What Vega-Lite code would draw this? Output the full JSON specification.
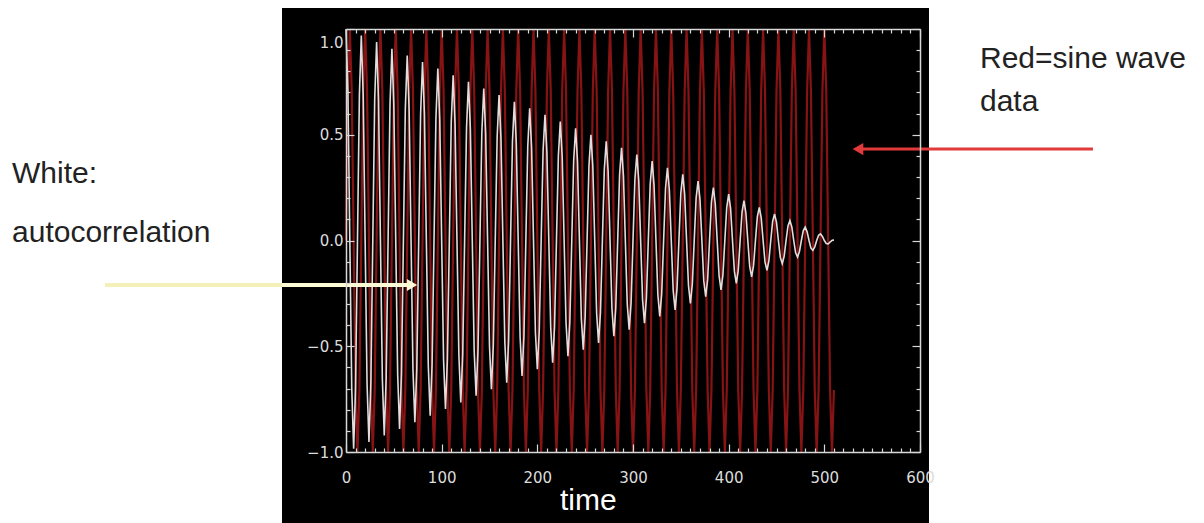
{
"$schema": "https://vega.github.io/schema/vega-lite/v6.json",
"width": 574, "height": 423,
"autosize": {"type": "none"},
"padding": {"left": 346, "top": 29, "right": 284, "bottom": 71},
"background": "#ffffff",
"config": {"view": {"stroke": null}},
"resolve": {"axis": {"x": "independent", "y": "independent"}},
"datasets": {
"acf": [
{"t":0,"r":0,"w":1},{"t":2,"r":0.707,"w":0.704},{"t":4,"r":1,"w":0},{"t":6,"r":0.707,"w":-0.699},{"t":8,"r":0,"w":-0.984},{"t":10,"r":-0.707,"w":-0.693},{"t":12,"r":-1,"w":0},{"t":14,"r":-0.707,"w":0.688},
{"t":16,"r":0,"w":0.969},{"t":18,"r":0.707,"w":0.682},{"t":20,"r":1,"w":0},{"t":22,"r":0.707,"w":-0.677},{"t":24,"r":0,"w":-0.953},{"t":26,"r":-0.707,"w":-0.671},{"t":28,"r":-1,"w":0},{"t":30,"r":-0.707,"w":0.666},
{"t":32,"r":0,"w":0.938},{"t":34,"r":0.707,"w":0.660},{"t":36,"r":1,"w":0},{"t":38,"r":0.707,"w":-0.655},{"t":40,"r":0,"w":-0.922},{"t":42,"r":-0.707,"w":-0.649},{"t":44,"r":-1,"w":0},{"t":46,"r":-0.707,"w":0.644},
{"t":48,"r":0,"w":0.906},{"t":50,"r":0.707,"w":0.638},{"t":52,"r":1,"w":0},{"t":54,"r":0.707,"w":-0.633},{"t":56,"r":0,"w":-0.891},{"t":58,"r":-0.707,"w":-0.627},{"t":60,"r":-1,"w":0},{"t":62,"r":-0.707,"w":0.621},
{"t":64,"r":0,"w":0.875},{"t":66,"r":0.707,"w":0.616},{"t":68,"r":1,"w":0},{"t":70,"r":0.707,"w":-0.610},{"t":72,"r":0,"w":-0.859},{"t":74,"r":-0.707,"w":-0.605},{"t":76,"r":-1,"w":0},{"t":78,"r":-0.707,"w":0.599},
{"t":80,"r":0,"w":0.844},{"t":82,"r":0.707,"w":0.594},{"t":84,"r":1,"w":0},{"t":86,"r":0.707,"w":-0.588},{"t":88,"r":0,"w":-0.828},{"t":90,"r":-0.707,"w":-0.583},{"t":92,"r":-1,"w":0},{"t":94,"r":-0.707,"w":0.577},
{"t":96,"r":0,"w":0.813},{"t":98,"r":0.707,"w":0.572},{"t":100,"r":1,"w":0},{"t":102,"r":0.707,"w":-0.566},{"t":104,"r":0,"w":-0.797},{"t":106,"r":-0.707,"w":-0.561},{"t":108,"r":-1,"w":0},{"t":110,"r":-0.707,"w":0.555},
{"t":112,"r":0,"w":0.781},{"t":114,"r":0.707,"w":0.550},{"t":116,"r":1,"w":0},{"t":118,"r":0.707,"w":-0.544},{"t":120,"r":0,"w":-0.766},{"t":122,"r":-0.707,"w":-0.539},{"t":124,"r":-1,"w":0},{"t":126,"r":-0.707,"w":0.533},
{"t":128,"r":0,"w":0.75},{"t":130,"r":0.707,"w":0.528},{"t":132,"r":1,"w":0},{"t":134,"r":0.707,"w":-0.522},{"t":136,"r":0,"w":-0.734},{"t":138,"r":-0.707,"w":-0.517},{"t":140,"r":-1,"w":0},{"t":142,"r":-0.707,"w":0.511},
{"t":144,"r":0,"w":0.719},{"t":146,"r":0.707,"w":0.505},{"t":148,"r":1,"w":0},{"t":150,"r":0.707,"w":-0.5},{"t":152,"r":0,"w":-0.703},{"t":154,"r":-0.707,"w":-0.494},{"t":156,"r":-1,"w":0},{"t":158,"r":-0.707,"w":0.489},
{"t":160,"r":0,"w":0.688},{"t":162,"r":0.707,"w":0.483},{"t":164,"r":1,"w":0},{"t":166,"r":0.707,"w":-0.478},{"t":168,"r":0,"w":-0.672},{"t":170,"r":-0.707,"w":-0.472},{"t":172,"r":-1,"w":0},{"t":174,"r":-0.707,"w":0.467},
{"t":176,"r":0,"w":0.656},{"t":178,"r":0.707,"w":0.461},{"t":180,"r":1,"w":0},{"t":182,"r":0.707,"w":-0.456},{"t":184,"r":0,"w":-0.641},{"t":186,"r":-0.707,"w":-0.450},{"t":188,"r":-1,"w":0},{"t":190,"r":-0.707,"w":0.445},
{"t":192,"r":0,"w":0.625},{"t":194,"r":0.707,"w":0.439},{"t":196,"r":1,"w":0},{"t":198,"r":0.707,"w":-0.434},{"t":200,"r":0,"w":-0.609},{"t":202,"r":-0.707,"w":-0.428},{"t":204,"r":-1,"w":0},{"t":206,"r":-0.707,"w":0.423},
{"t":208,"r":0,"w":0.594},{"t":210,"r":0.707,"w":0.417},{"t":212,"r":1,"w":0},{"t":214,"r":0.707,"w":-0.412},{"t":216,"r":0,"w":-0.578},{"t":218,"r":-0.707,"w":-0.406},{"t":220,"r":-1,"w":0},{"t":222,"r":-0.707,"w":0.400},
{"t":224,"r":0,"w":0.563},{"t":226,"r":0.707,"w":0.395},{"t":228,"r":1,"w":0},{"t":230,"r":0.707,"w":-0.389},{"t":232,"r":0,"w":-0.547},{"t":234,"r":-0.707,"w":-0.384},{"t":236,"r":-1,"w":0},{"t":238,"r":-0.707,"w":0.378},
{"t":240,"r":0,"w":0.531},{"t":242,"r":0.707,"w":0.373},{"t":244,"r":1,"w":0},{"t":246,"r":0.707,"w":-0.367},{"t":248,"r":0,"w":-0.516},{"t":250,"r":-0.707,"w":-0.362},{"t":252,"r":-1,"w":0},{"t":254,"r":-0.707,"w":0.356},
{"t":256,"r":0,"w":0.5},{"t":258,"r":0.707,"w":0.351},{"t":260,"r":1,"w":0},{"t":262,"r":0.707,"w":-0.345},{"t":264,"r":0,"w":-0.484},{"t":266,"r":-0.707,"w":-0.340},{"t":268,"r":-1,"w":0},{"t":270,"r":-0.707,"w":0.334},
{"t":272,"r":0,"w":0.469},{"t":274,"r":0.707,"w":0.329},{"t":276,"r":1,"w":0},{"t":278,"r":0.707,"w":-0.323},{"t":280,"r":0,"w":-0.453},{"t":282,"r":-0.707,"w":-0.318},{"t":284,"r":-1,"w":0},{"t":286,"r":-0.707,"w":0.312},
{"t":288,"r":0,"w":0.438},{"t":290,"r":0.707,"w":0.307},{"t":292,"r":1,"w":0},{"t":294,"r":0.707,"w":-0.301},{"t":296,"r":0,"w":-0.422},{"t":298,"r":-0.707,"w":-0.296},{"t":300,"r":-1,"w":0},{"t":302,"r":-0.707,"w":0.290},
{"t":304,"r":0,"w":0.406},{"t":306,"r":0.707,"w":0.284},{"t":308,"r":1,"w":0},{"t":310,"r":0.707,"w":-0.279},{"t":312,"r":0,"w":-0.391},{"t":314,"r":-0.707,"w":-0.273},{"t":316,"r":-1,"w":0},{"t":318,"r":-0.707,"w":0.268},
{"t":320,"r":0,"w":0.375},{"t":322,"r":0.707,"w":0.262},{"t":324,"r":1,"w":0},{"t":326,"r":0.707,"w":-0.257},{"t":328,"r":0,"w":-0.359},{"t":330,"r":-0.707,"w":-0.251},{"t":332,"r":-1,"w":0},{"t":334,"r":-0.707,"w":0.246},
{"t":336,"r":0,"w":0.344},{"t":338,"r":0.707,"w":0.240},{"t":340,"r":1,"w":0},{"t":342,"r":0.707,"w":-0.235},{"t":344,"r":0,"w":-0.328},{"t":346,"r":-0.707,"w":-0.229},{"t":348,"r":-1,"w":0},{"t":350,"r":-0.707,"w":0.224},
{"t":352,"r":0,"w":0.313},{"t":354,"r":0.707,"w":0.218},{"t":356,"r":1,"w":0},{"t":358,"r":0.707,"w":-0.213},{"t":360,"r":0,"w":-0.297},{"t":362,"r":-0.707,"w":-0.207},{"t":364,"r":-1,"w":0},{"t":366,"r":-0.707,"w":0.202},
{"t":368,"r":0,"w":0.281},{"t":370,"r":0.707,"w":0.196},{"t":372,"r":1,"w":0},{"t":374,"r":0.707,"w":-0.191},{"t":376,"r":0,"w":-0.266},{"t":378,"r":-0.707,"w":-0.185},{"t":380,"r":-1,"w":0},{"t":382,"r":-0.707,"w":0.180},
{"t":384,"r":0,"w":0.25},{"t":386,"r":0.707,"w":0.174},{"t":388,"r":1,"w":0},{"t":390,"r":0.707,"w":-0.168},{"t":392,"r":0,"w":-0.234},{"t":394,"r":-0.707,"w":-0.163},{"t":396,"r":-1,"w":0},{"t":398,"r":-0.707,"w":0.157},
{"t":400,"r":0,"w":0.219},{"t":402,"r":0.707,"w":0.152},{"t":404,"r":1,"w":0},{"t":406,"r":0.707,"w":-0.146},{"t":408,"r":0,"w":-0.203},{"t":410,"r":-0.707,"w":-0.141},{"t":412,"r":-1,"w":0},{"t":414,"r":-0.707,"w":0.135},
{"t":416,"r":0,"w":0.188},{"t":418,"r":0.707,"w":0.130},{"t":420,"r":1,"w":0},{"t":422,"r":0.707,"w":-0.124},{"t":424,"r":0,"w":-0.172},{"t":426,"r":-0.707,"w":-0.119},{"t":428,"r":-1,"w":0},{"t":430,"r":-0.707,"w":0.113},
{"t":432,"r":0,"w":0.156},{"t":434,"r":0.707,"w":0.108},{"t":436,"r":1,"w":0},{"t":438,"r":0.707,"w":-0.102},{"t":440,"r":0,"w":-0.141},{"t":442,"r":-0.707,"w":-0.097},{"t":444,"r":-1,"w":0},{"t":446,"r":-0.707,"w":0.091},
{"t":448,"r":0,"w":0.125},{"t":450,"r":0.707,"w":0.086},{"t":452,"r":1,"w":0},{"t":454,"r":0.707,"w":-0.080},{"t":456,"r":0,"w":-0.109},{"t":458,"r":-0.707,"w":-0.075},{"t":460,"r":-1,"w":0},{"t":462,"r":-0.707,"w":0.069},
{"t":464,"r":0,"w":0.094},{"t":466,"r":0.707,"w":0.064},{"t":468,"r":1,"w":0},{"t":470,"r":0.707,"w":-0.058},{"t":472,"r":0,"w":-0.078},{"t":474,"r":-0.707,"w":-0.052},{"t":476,"r":-1,"w":0},{"t":478,"r":-0.707,"w":0.047},
{"t":480,"r":0,"w":0.063},{"t":482,"r":0.707,"w":0.041},{"t":484,"r":1,"w":0},{"t":486,"r":0.707,"w":-0.036},{"t":488,"r":0,"w":-0.047},{"t":490,"r":-0.707,"w":-0.030},{"t":492,"r":-1,"w":0},{"t":494,"r":-0.707,"w":0.025},
{"t":496,"r":0,"w":0.031},{"t":498,"r":0.707,"w":0.019},{"t":500,"r":1,"w":0},{"t":502,"r":0.707,"w":-0.014},{"t":504,"r":0,"w":-0.016},{"t":506,"r":-0.707,"w":-0.008},{"t":508,"r":-1,"w":0},{"t":510,"r":-0.707,"w":0.003}
]
},
"layer": [
{
"data": {"values": [{}]},
"mark": {"type": "rect", "fill": "#000000"},
"encoding": {
"x": {"datum": -66.9, "type": "quantitative", "scale": {"domain": [0, 600], "nice": false, "zero": false}, "axis": null},
"x2": {"datum": 609.4},
"y": {"datum": 1.0993, "type": "quantitative", "scale": {"domain": [-1, 1], "nice": false, "zero": false}, "axis": null},
"y2": {"datum": -1.3357}
}
},
{
"data": {"name": "acf"},
"mark": {"type": "line", "color": "#861414", "strokeWidth": 2.2},
"encoding": {
"x": {"field": "t", "type": "quantitative", "scale": {"domain": [0, 600], "nice": false, "zero": false},
"axis": {"orient": "bottom", "title": null, "grid": false, "zindex": 1,
"values": [0,10,20,30,40,50,60,70,80,90,100,110,120,130,140,150,160,170,180,190,200,210,220,230,240,250,260,270,280,290,300,310,320,330,340,350,360,370,380,390,400,410,420,430,440,450,460,470,480,490,500,510,520,530,540,550,560,570,580,590,600],
"labelExpr": "datum.value % 100 === 0 ? datum.label : ''",
"domainColor": "#d8d8d8", "domainWidth": 1.5, "tickColor": "#d8d8d8", "tickWidth": 1.2,
"tickSize": {"condition": {"test": "datum.value % 100 === 0", "value": -8}, "value": -4},
"labelColor": "#dcdcdc", "labelFont": "DejaVu Sans", "labelFontSize": 15, "labelPadding": 26,
"labelFlush": false, "labelOverlap": false, "labelBound": false}},
"y": {"field": "r", "type": "quantitative", "scale": {"domain": [-1, 1], "nice": false, "zero": false},
"axis": {"orient": "left", "title": null, "grid": false, "zindex": 1,
"values": [-1,-0.9,-0.8,-0.7,-0.6,-0.5,-0.4,-0.3,-0.2,-0.1,0,0.1,0.2,0.3,0.4,0.5,0.6,0.7,0.8,0.9,1],
"labelExpr": "abs(datum.value*2 - round(datum.value*2)) < 0.01 ? format(datum.value, '.1f') : ''",
"domainColor": "#d8d8d8", "domainWidth": 1.5, "tickColor": "#d8d8d8", "tickWidth": 1.2,
"tickSize": {"condition": {"test": "abs(datum.value*2 - round(datum.value*2)) < 0.01", "value": -8}, "value": -4},
"labelColor": "#dcdcdc", "labelFont": "DejaVu Sans", "labelFontSize": 15, "labelPadding": 11,
"labelBaseline": "middle",
"labelOffset": {"condition": {"test": "datum.value > 0.99", "value": 13}, "value": 0},
"labelFlush": false, "labelOverlap": false, "labelBound": false}}
}
},
{
"data": {"name": "acf"},
"mark": {"type": "line", "color": "#e2dcdc", "strokeWidth": 1.6},
"encoding": {
"x": {"field": "t", "type": "quantitative",
"axis": {"orient": "top", "title": null, "grid": false, "zindex": 1, "labels": false,
"values": [0,10,20,30,40,50,60,70,80,90,100,110,120,130,140,150,160,170,180,190,200,210,220,230,240,250,260,270,280,290,300,310,320,330,340,350,360,370,380,390,400,410,420,430,440,450,460,470,480,490,500,510,520,530,540,550,560,570,580,590,600],
"domainColor": "#d8d8d8", "domainWidth": 1.5, "tickColor": "#d8d8d8", "tickWidth": 1.2,
"tickSize": {"condition": {"test": "datum.value % 100 === 0", "value": -8}, "value": -4}}},
"y": {"field": "w", "type": "quantitative",
"axis": {"orient": "right", "title": null, "grid": false, "zindex": 1, "labels": false,
"values": [-1,-0.9,-0.8,-0.7,-0.6,-0.5,-0.4,-0.3,-0.2,-0.1,0,0.1,0.2,0.3,0.4,0.5,0.6,0.7,0.8,0.9,1],
"domainColor": "#d8d8d8", "domainWidth": 1.5, "tickColor": "#d8d8d8", "tickWidth": 1.2,
"tickSize": {"condition": {"test": "abs(datum.value*2 - round(datum.value*2)) < 0.01", "value": -8}, "value": -4}}}
}
},
{
"data": {"values": [{}]},
"mark": {"type": "rule", "color": "#f3f0b8", "strokeWidth": 4},
"encoding": {
"x": {"datum": -251.9, "type": "quantitative", "axis": null},
"x2": {"datum": -66.9},
"y": {"datum": -0.2104, "type": "quantitative", "axis": null}
}
},
{
"data": {"values": [{}]},
"mark": {"type": "rule", "color": "#fdfbd5", "strokeWidth": 4},
"encoding": {
"x": {"datum": -66.9, "type": "quantitative", "axis": null},
"x2": {"datum": 66},
"y": {"datum": -0.2104, "type": "quantitative", "axis": null}
}
},
{
"data": {"values": [{}]},
"mark": {"type": "point", "shape": "triangle-right", "filled": true, "size": 140, "color": "#fdfbd5", "opacity": 1},
"encoding": {
"x": {"datum": 69, "type": "quantitative", "axis": null},
"y": {"datum": -0.2104, "type": "quantitative", "axis": null}
}
},
{
"data": {"values": [{}]},
"mark": {"type": "rule", "color": "#e03a3a", "strokeWidth": 3},
"encoding": {
"x": {"datum": 537, "type": "quantitative", "axis": null},
"x2": {"datum": 780.8},
"y": {"datum": 0.4326, "type": "quantitative", "axis": null}
}
},
{
"data": {"values": [{}]},
"mark": {"type": "point", "shape": "triangle-left", "filled": true, "size": 150, "color": "#e03a3a", "opacity": 1},
"encoding": {
"x": {"datum": 535.2, "type": "quantitative", "axis": null},
"y": {"datum": 0.4326, "type": "quantitative", "axis": null}
}
},
{
"data": {"values": [{}]},
"mark": {"type": "text", "text": "White:", "align": "left", "baseline": "alphabetic", "font": "Liberation Sans", "fontSize": 30, "color": "#222222"},
"encoding": {
"x": {"datum": -349.1, "type": "quantitative", "axis": null},
"y": {"datum": 0.2719, "type": "quantitative", "axis": null}
}
},
{
"data": {"values": [{}]},
"mark": {"type": "text", "text": "autocorrelation", "align": "left", "baseline": "alphabetic", "font": "Liberation Sans", "fontSize": 30, "color": "#222222"},
"encoding": {
"x": {"datum": -349.1, "type": "quantitative", "axis": null},
"y": {"datum": -0.0071, "type": "quantitative", "axis": null}
}
},
{
"data": {"values": [{}]},
"mark": {"type": "text", "text": "Red=sine wave", "align": "left", "baseline": "alphabetic", "font": "Liberation Sans", "fontSize": 30, "color": "#222222"},
"encoding": {
"x": {"datum": 662.7, "type": "quantitative", "axis": null},
"y": {"datum": 0.8156, "type": "quantitative", "axis": null}
}
},
{
"data": {"values": [{}]},
"mark": {"type": "text", "text": "data", "align": "left", "baseline": "alphabetic", "font": "Liberation Sans", "fontSize": 30, "color": "#222222"},
"encoding": {
"x": {"datum": 662.7, "type": "quantitative", "axis": null},
"y": {"datum": 0.6123, "type": "quantitative", "axis": null}
}
},
{
"data": {"values": [{}]},
"mark": {"type": "text", "text": "time", "align": "left", "baseline": "alphabetic", "font": "Liberation Sans", "fontSize": 30, "color": "#ffffff"},
"encoding": {
"x": {"datum": 223.7, "type": "quantitative", "axis": null},
"y": {"datum": -1.2742, "type": "quantitative", "axis": null}
}
}
]
}
